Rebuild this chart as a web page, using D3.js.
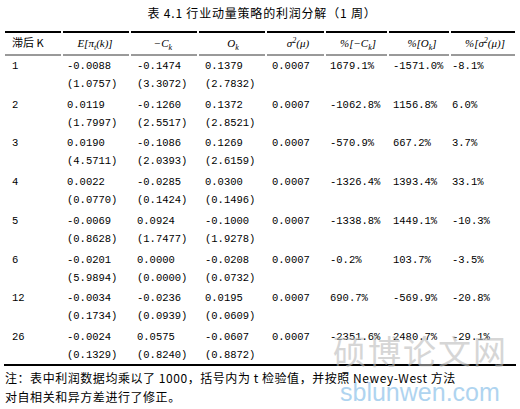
<!DOCTYPE html><html><head><meta charset="utf-8"><script src="https://cdn.jsdelivr.net/npm/d3@7"></script>
<style>body{margin:0;background:#fff}</style></head><body><svg id="c" width="520" height="409"></svg>
<script>
const lags=["1","2","3","4","5","6","12","26"];
const expProfit=["-0.0088","0.0119","0.0190","0.0022","-0.0069","-0.0201","-0.0034","-0.0024"];
const expT=["(1.0757)","(1.7997)","(4.5711)","(0.0770)","(0.8628)","(5.9894)","(0.1734)","(0.1329)"];
const negC=["-0.1474","-0.1260","-0.1086","-0.0285","0.0924","0.0000","-0.0236","0.0575"];
const negCT=["(3.3072)","(2.5517)","(2.0393)","(0.1424)","(1.7477)","(0.0000)","(0.0939)","(0.8240)"];
const oK=["0.1379","0.1372","0.1269","0.0300","-0.1000","-0.0208","0.0195","-0.0607"];
const oKT=["(2.7832)","(2.8521)","(2.6159)","(0.1496)","(1.9278)","(0.0732)","(0.0609)","(0.8872)"];
const sigma=["0.0007","0.0007","0.0007","0.0007","0.0007","0.0007","0.0007","0.0007"];
const pctC=["1679.1%","-1062.8%","-570.9%","-1326.4%","-1338.8%","-0.2%","690.7%","-2351.6%"];
const pctO=["-1571.0%","1156.8%","667.2%","1393.4%","1449.1%","103.7%","-569.9%","2480.7%"];
const pctS=["-8.1%","6.0%","3.7%","33.1%","-10.3%","-3.5%","-20.8%","-29.1%"];
const svg=d3.select("#c");
const mono="'Liberation Mono','DejaVu Sans Mono',monospace", cjk="'Noto Sans CJK SC',serif";
svg.append("text").attr("x",262).attr("y",18).attr("text-anchor","middle").attr("font-family",cjk).attr("font-size",12).attr("letter-spacing",0.8).text("表 4.1   行业动量策略的利润分解（1 周）");
const x=d3.scaleOrdinal().domain(d3.range(8)).range([12,67,137,205,272,330,393,452]);
const bounds=[4,62,130,198,266,325,388,450,516];
const y=d3.scaleLinear().domain([0,7]).range([65,336]);
for(let i=0;i<8;i++){
 svg.append("line").attr("x1",bounds[i]+1).attr("x2",bounds[i+1]-1).attr("y1",32).attr("y2",32).attr("stroke","#000").attr("stroke-width",2);
 svg.append("line").attr("x1",bounds[i]+1).attr("x2",bounds[i+1]-1).attr("y1",55).attr("y2",55).attr("stroke","#000").attr("stroke-width",0.8);
}
svg.append("line").attr("x1",4).attr("x2",516).attr("y1",365).attr("y2",365).attr("stroke","#000").attr("stroke-width",2);
const hdr=[["滞后 K",12,"start",cjk],["E[π<tspan font-size='8' dy='3'>t</tspan><tspan dy='-3'>(k)]</tspan>",95,"middle","serif"],["−C<tspan font-size='8' dy='3'>k</tspan>",163,"middle","serif"],["O<tspan font-size='8' dy='3'>k</tspan>",233,"middle","serif"],["σ<tspan font-size='8' dy='-4'>2</tspan><tspan dy='4'>(μ)</tspan>",298,"middle","serif"],["%[−C<tspan font-size='8' dy='3'>k</tspan><tspan dy='-3'>]</tspan>",358,"middle","serif"],["%[O<tspan font-size='8' dy='3'>k</tspan><tspan dy='-3'>]</tspan>",422,"middle","serif"],["%[σ<tspan font-size='8' dy='-4'>2</tspan><tspan dy='4'>(μ)]</tspan>",485,"middle","serif"]];
hdr.forEach(h=>svg.append("text").attr("x",h[1]).attr("y",47).attr("text-anchor",h[2]).attr("font-family",h[3]).attr("font-style",h[3]=="serif"?"italic":null).attr("font-size",11).html(h[0]));
const cols=[lags,expProfit,negC,oK,sigma,pctC,pctO,pctS];
const tcols=[null,expT,negCT,oKT];
cols.forEach((c,j)=>c.forEach((v,i)=>svg.append("text").attr("x",x(j)).attr("y",y(i)+4).attr("font-family",mono).attr("font-size",10.5).text(v)));
tcols.forEach((c,j)=>c&&c.forEach((v,i)=>svg.append("text").attr("x",x(j)).attr("y",y(i)+22).attr("font-family",mono).attr("font-size",10.5).text(v)));
svg.append("text").attr("x",333).attr("y",364).attr("font-family",cjk).attr("font-size",33).attr("fill","#bbb").attr("opacity",0.6).attr("letter-spacing",2).text("硕博论文网");
svg.append("text").attr("x",340).attr("y",401).attr("font-family","'Liberation Sans',sans-serif").attr("font-size",25).attr("fill","#8ec3ea").attr("opacity",0.7).text("sblunwen.com");
svg.append("text").attr("x",5).attr("y",383).attr("font-family",cjk).attr("font-size",12).attr("letter-spacing",0.55).text("注：表中利润数据均乘以了 1000，括号内为 t 检验值，并按照 Newey-West 方法");
svg.append("text").attr("x",5).attr("y",402).attr("font-family",cjk).attr("font-size",12).attr("letter-spacing",0.55).text("对自相关和异方差进行了修正。");
</script></body></html>
